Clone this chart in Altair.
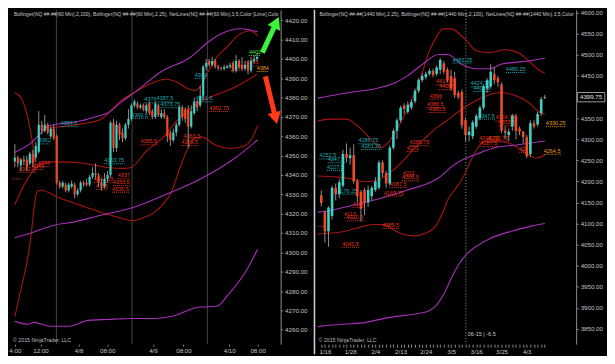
import math
import altair as alt
import pandas as pd

# ================= LEFT PANEL : NQ 60 Min =================
L_open = [4347, 4349, 4345, 4348, 4348, 4346, 4351, 4349, 4352, 4366,
          4363, 4366, 4360, 4364, 4360, 4336, 4334, 4335, 4332, 4334,
          4335, 4330, 4332, 4336, 4336, 4335, 4339, 4341, 4340, 4336,
          4334, 4338, 4340, 4367, 4354, 4366, 4362, 4359, 4366, 4369,
          4376, 4377, 4375, 4376, 4373, 4377, 4373, 4370, 4376, 4370,
          4372, 4370, 4362, 4358, 4362, 4366, 4375, 4374, 4374, 4365,
          4372, 4378, 4376, 4381, 4396, 4399, 4397, 4399, 4396, 4395.5,
          4395, 4395.5, 4396, 4398, 4394, 4399, 4397, 4395, 4398, 4394,
          4399, 4400]
L_high = [4356, 4350, 4349, 4350, 4350, 4352, 4353, 4357, 4373, 4368,
          4371, 4367, 4365, 4366, 4361, 4337, 4337, 4336, 4336, 4337,
          4336, 4333, 4337, 4337, 4338, 4340, 4344, 4346, 4341, 4338,
          4341, 4342, 4368, 4369, 4368, 4367, 4364, 4367, 4374, 4377,
          4379, 4378, 4377, 4377, 4377, 4378, 4374, 4378, 4377, 4374,
          4374, 4371, 4363, 4364, 4367, 4376, 4376, 4375, 4376, 4376,
          4380, 4379, 4386, 4397, 4400, 4400, 4401, 4400, 4397, 4396,
          4397, 4397, 4398, 4399, 4402, 4400, 4401, 4399, 4399, 4401,
          4402, 4403]
L_low = [4344, 4344, 4342, 4345, 4342, 4345, 4344, 4347, 4351, 4361,
         4362, 4361, 4359, 4358, 4335, 4333, 4333, 4331, 4331, 4333,
         4328, 4329, 4331, 4334, 4334, 4334, 4338, 4338, 4334, 4332,
         4333, 4336, 4339, 4352, 4352, 4358, 4357, 4358, 4364, 4368,
         4375, 4374, 4374, 4373, 4372, 4371, 4369, 4369, 4370, 4369,
         4369, 4357, 4355, 4357, 4360, 4365, 4368, 4367, 4354, 4364,
         4371, 4373, 4375, 4379, 4394, 4396, 4396, 4395, 4394, 4394,
         4394, 4395, 4395, 4393, 4393, 4395, 4394, 4394, 4392, 4393,
         4398, 4399]
L_close = [4349, 4346, 4348, 4347, 4344, 4351, 4346, 4355, 4366, 4363,
           4366, 4362, 4364, 4359, 4336, 4334, 4336, 4332, 4335, 4335.5,
           4330, 4332, 4336, 4335, 4335, 4339, 4341, 4340, 4336, 4334,
           4338, 4340, 4367, 4354, 4366, 4361, 4359, 4366, 4369, 4376,
           4378, 4375, 4376, 4374, 4376, 4372, 4370, 4377, 4371, 4372,
           4370, 4360, 4358, 4362, 4366, 4375, 4370, 4369, 4365, 4373,
           4378, 4375, 4381, 4396, 4398, 4397, 4399, 4396, 4395.25, 4395,
           4395.75, 4396.25, 4396.75, 4394, 4399, 4396, 4395, 4397, 4394, 4399,
           4400, 4401]

# Bollinger(2,100) - purple
L_bb100_up_i = [0, 5.4, 8.6, 10.8, 15, 20.4, 27.7, 30.9, 35.7, 40.4, 49, 58.6, 65, 69.1, 75.5, 81.2]
L_bb100_up_p = [4351.7, 4356.6, 4361.5, 4365, 4366.5, 4367.4, 4370.4, 4371.9, 4377.8, 4383.1,
                4393.5, 4400.8, 4409.2, 4413.1, 4415.6, 4414.1]
L_bb100_mid_i = [0, 5.4, 12.7, 20.4, 27.7, 39.5, 50, 62.7, 73.2, 81.2]
L_bb100_mid_p = [4307.5, 4310, 4313.9, 4315.9, 4318.8, 4323.2, 4329.6, 4338.5, 4348.3, 4358.1]
L_bb100_lo_i = [0, 4.5, 6.4, 11.8, 18.2, 24.5, 30.9, 39.5, 46.8, 52.2, 61.8, 67.5, 71.3, 77.7, 81.2]
L_bb100_lo_p = [4264.3, 4262.8, 4263.8, 4261.8, 4261.8, 4264.8, 4265.3, 4265.8, 4265.8, 4266.8,
                4271.7, 4272.1, 4278, 4291.3, 4301.6]
# Bollinger(2.25,25) - dark red
L_bb25_a_i = [0, 2.2, 3.8, 5.1, 6.1, 6.7, 7.0]
L_bb25_a_p = [4382.7, 4379.7, 4372.8, 4364, 4354.6, 4346.8, 4343.4]
L_bb25_up_i = [11.8, 20.4, 28.3, 30.9, 35.7, 40.4, 45.2, 50.6, 54.8, 58, 60.2, 62.1, 64.3, 67.5,
               70.7, 75.5, 78.7, 81.2]
L_bb25_up_p = [4364.5, 4366, 4368.4, 4371.4, 4378.7, 4383.1, 4387.1, 4389.5, 4387.6, 4384.6,
               4383.6, 4386.1, 4392.5, 4400.8, 4405.8, 4413.1, 4414.6, 4412.1]
L_bb25_mid_i = [0, 2.2, 4.8, 7.0, 9.6, 15, 21.3, 27.7, 30.9, 36.3, 38.9, 43.6, 50, 54.1, 60.5,
                66.9, 73.2, 80.9]
L_bb25_mid_p = [4324.7, 4332.1, 4339.4, 4343.4, 4346.8, 4346.8, 4346.3, 4344.8, 4343.9, 4343.4,
                4343.9, 4351.7, 4360.1, 4367.9, 4376.3, 4381.2, 4385.1, 4392]
L_bb25_lo_i = [0, 1.6, 3.2, 4.5, 5.4, 6.4, 7.3, 8.6, 15, 21.3, 27.7, 34.1, 39.5, 43.6, 46.8, 50,
               52.2, 55.4, 58, 60.2, 62.7, 66.9, 72.3, 77.1, 79.3, 81.2]
L_bb25_lo_p = [4266.7, 4278, 4288.8, 4298.7, 4308.5, 4322.2, 4331.1, 4332.1, 4328.1, 4324.7,
               4321.3, 4318.3, 4316.4, 4318.3, 4320.8, 4325.7, 4330.6, 4344.4, 4354.2, 4359.1,
               4359.6, 4355.6, 4353.7, 4355.2, 4359.1, 4365.5]

# NetLines labels
L_lab_txt = ["4354.5", "4362", "4344", "4342.5", "4343", "", "4353.75", "4341.25", "4335", "4337",
             "4333.5", "4330.5", "4369.5", "4376", "4387.5", "4373.75", "4389", "4381.5", "4362.75",
             "4365.5", "4363.5", "4359.5", "4396", "4395", "4384", "4402"]
L_lab_i = [15.3, 8, 7.6, 1.3, 5.7, -1, 29.9, 26.4, 27.1, 34.4, 32.8, 32.5, 38.9, 43.3, 47.4, 48.7,
           60.2, 60.5, 65, 42, 56.4, 55.7, 72.3, 77.4, 80.9, 78.3]
L_lab_p = [4365, 4356.1, 4344.4, 4341.4, 4342.9, 4338, 4345.8, 4336, 4332.6, 4338, 4334.5, 4331.1,
           4369.4, 4377.3, 4377.8, 4374.8, 4390, 4377.8, 4372.8, 4355.6, 4358.6, 4355.2, 4394,
           4396.4, 4393.5, 4401.8]
L_lab_kind = ["up", "up", "dn", "dn", "dn", "dn", "up", "dn", "dn", "dn", "dn", "dn", "up", "up",
              "up", "up", "up", "up", "dn", "dn", "dn", "dn", "dn", "dn", "cur", "hi"]

L_xtick_pos = [0, 8.6, 21.3, 30.9, 46.2, 56.4, 71.7, 81.2]
L_xtick_lab = ["4:00", "12:00", "4/8", "08:00", "4/9", "08:00", "4/10", "08:00"]
L_sessions = [13.9, 39.2, 64.4]
L_yticks = list(range(4260, 4421, 10))
G_ARROW_I = [82.8, 86.9]
G_ARROW_P = [4403.3, 4417.0]
R_ARROW_I = [83.8, 86.9]
R_ARROW_P = [4391.0, 4371.4]

# ================= RIGHT PANEL : NQ 1440 Min =================
R_open = [4167, 4127, 4082, 4118, 4185, 4170, 4190, 4265, 4255, 4262,
          4200, 4175, 4180, 4150, 4165, 4180, 4185, 4245, 4220, 4195,
          4280, 4320, 4345, 4380, 4365, 4375, 4390, 4415, 4440, 4447,
          4455, 4462, 4455, 4465, 4480, 4465, 4450, 4445, 4410, 4412,
          4345, 4310, 4307, 4330, 4350, 4375, 4420, 4425, 4455, 4445,
          4430, 4320, 4310, 4330, 4355, 4325, 4318, 4305, 4265, 4338,
          4335, 4362, 4398]
R_high = [4179, 4131, 4141, 4190, 4195, 4205, 4275, 4290, 4280, 4288,
          4205, 4180, 4185, 4190, 4190, 4210, 4250, 4250, 4225, 4285,
          4325, 4350, 4380, 4385, 4390, 4395, 4420, 4445, 4456, 4460,
          4468, 4467, 4475, 4492, 4485, 4470, 4465, 4460, 4415, 4418,
          4350, 4330, 4345, 4360, 4380, 4430, 4445, 4478, 4470, 4450,
          4435, 4330, 4325, 4360, 4360, 4330, 4320, 4310, 4345, 4345,
          4365, 4400, 4405]
R_low = [4140, 4055, 4045, 4110, 4155, 4160, 4185, 4245, 4240, 4195,
         4150, 4105, 4120, 4140, 4155, 4175, 4180, 4210, 4185, 4190,
         4275, 4300, 4340, 4360, 4360, 4370, 4385, 4410, 4435, 4442,
         4450, 4447, 4450, 4455, 4455, 4435, 4415, 4398, 4395, 4325,
         4295, 4295, 4300, 4325, 4345, 4370, 4410, 4420, 4430, 4425,
         4315, 4300, 4295, 4320, 4300, 4310, 4290, 4255, 4258, 4325,
         4330, 4355, 4395]
R_close = [4149, 4082, 4138, 4185, 4170, 4198, 4265, 4255, 4262, 4200,
           4165, 4135, 4150, 4180, 4185, 4200, 4245, 4220, 4195, 4280,
           4320, 4345, 4375, 4372, 4382, 4388, 4415, 4440, 4450, 4455,
           4462, 4452, 4470, 4488, 4460, 4440, 4420, 4405, 4400, 4333,
           4310, 4318, 4340, 4355, 4375, 4425, 4440, 4460, 4440, 4435,
           4320, 4315, 4318, 4355, 4320, 4318, 4305, 4260, 4338, 4330,
           4360, 4395, 4399.75]

R_bb100_up_i = [-1.06, 0.5, 6.1, 9.8, 15, 20.3, 23.7, 28.2, 32.5, 35.1, 38.8, 43, 46.7, 50.1, 54.6, 58.8, 62]
R_bb100_up_p = [4397.3, 4399.6, 4408.6, 4413.1, 4419.8, 4433.4, 4449.1, 4478.4, 4500.9, 4500.9,
                4478.4, 4467.1, 4467.1, 4478.4, 4482.9, 4487.4, 4491.9]
R_bb100_mid_i = [-1.06, 1.3, 6.1, 15, 23.7, 32.5, 36.9, 39.6, 43, 48.3, 54.6, 62]
R_bb100_mid_p = [4127.1, 4129.3, 4138.3, 4156.4, 4178.9, 4208.2, 4239.7, 4253.2, 4264.5, 4280.2, 4287, 4296]
R_bb100_lo_i = [-1.06, 0, 6.1, 12.4, 15, 20.3, 26.4, 29.8, 31.7, 34.3, 36.4, 38.3, 40.4, 43, 46.7, 52.8, 58, 62]
R_bb100_lo_p = [3854.6, 3856.8, 3861.3, 3865.8, 3870.4, 3879.4, 3886.1, 3892.9, 3904.1, 3937.9,
                3976.2, 4005.5, 4028, 4046, 4064, 4082, 4093.3, 4100]
R_bb25_up_i = [-1.06, 2.6, 6.9, 10.3, 14, 16.4, 18.5, 20.8, 23.2, 25.3, 27.7, 29.8, 31.7, 33.8,
               36.1, 38.8, 40.4, 43, 46.7, 50.9, 54.6, 57.3, 59.9, 62]
R_bb25_up_p = [4343.3, 4347.8, 4347.8, 4329.8, 4298.2, 4280.2, 4291.5, 4320.8, 4359, 4397.3,
               4449.1, 4505.4, 4539.2, 4561.7, 4561.7, 4546, 4532.4, 4509.9, 4505.4, 4512.2,
               4505.4, 4487.4, 4467.1, 4455.9]
R_bb25_mid_i = [-1.06, 4.2, 8.7, 12.1, 14.8, 18.2, 21.9, 25.3, 28.8, 31.7, 34.3, 39.6, 44.9, 49.6,
                53.6, 57.3, 60.7, 62]
R_bb25_mid_p = [4212.7, 4210.4, 4205.9, 4199.1, 4201.4, 4214.9, 4242, 4273.5, 4302.7, 4325.3,
                4341, 4374.8, 4399.6, 4410.8, 4404.1, 4388.3, 4363.5, 4359]
R_bb25_lo_i = [-1.06, 2.6, 6.6, 10.6, 14.5, 17.4, 19.8, 22.4, 25.9, 29, 31.7, 33.5, 35.1, 36.9,
               38.8, 40.4, 42.2, 44.1, 46.7, 50.1, 53.6, 57.3, 59.4, 62]
R_bb25_lo_p = [4075.3, 4077.5, 4082, 4091, 4097.8, 4097.8, 4086.6, 4075.3, 4070.8, 4077.5,
               4093.3, 4122.6, 4156.4, 4178.9, 4201.4, 4228.4, 4262.2, 4287, 4298.2, 4296,
               4284.7, 4264.5, 4255.4, 4262.2]

R_lab_txt = ["4483.25", "4480.25", "4424.75", "4417.5", "4396", "4386.5", "4380.5", "4414.75",
             "4408.5", "4347.5", "4324.75", "4323.5", "4330.25", "4298.75", "4292.75", "4287.5",
             "4271", "4264.5", "4288.75", "4283.25", "4252.5", "4247.5", "4227.5", "4176.25",
             "4285.75", "4271", "4211", "4206.5", "4187.5", "4165.75", "4149", "4113", "4110.5",
             "4085.5", "4041.5", ""]
R_lab_i = [36.4, 51.2, 41.4, 42.2, 30.1, 29.3, 29.8, 31.9, 32.7, 43.5, 48.3, 49.1, 62.3, 43.8,
           46.4, 44.1, 54.9, 61.7, 10.3, 11.1, -0.5, 1.8, 1.6, 4.5, 24.5, 23.7, 22.7, 22.4, 19,
           17.4, 8.7, 6.3, 7.1, 16.9, 5.8, -1.06]
R_lab_p = [4480.6, 4458.2, 4424.3, 4413.1, 4395.1, 4374.8, 4363.5, 4428.8, 4417.6, 4347.8,
           4343.3, 4332, 4329.8, 4293.7, 4293.7, 4282.5, 4268.9, 4264.5, 4289.2, 4275.7,
           4253.2, 4244.2, 4226.2, 4169.9, 4284.7, 4271.2, 4212.7, 4201.4, 4185.6, 4165.4,
           4138.3, 4113.6, 4106.8, 4088.8, 4043.8, 4093.3]
R_lab_kind = ["up", "up", "up", "up", "dn", "dn", "dn", "dn", "dn", "up", "dn", "dn", "cur", "dn",
              "dn", "dn", "dn", "cur", "up", "up", "up", "up", "up", "up", "dn", "dn", "dn", "dn",
              "dn", "dn", "dn", "dn", "dn", "dn", "dn", "dn"]

R_xtick_pos = [1, 8, 15, 22, 29, 36, 43, 50, 57]
R_xtick_lab = ["1/16", "1/28", "2/4", "2/13", "2/24", "3/5", "3/16", "3/25", "4/3"]
R_cursor = [40.1]
R_last = [4399.75]
R_yticks = [v for v in range(3850, 4601, 50) if v != 4400]

L_TITLE = ("Bollinger(NQ ##-##(60 Min),2,100), Bollinger(NQ ##-##(60 Min),2,25), "
           "NetLines(NQ ##-##(60 Min),3,5,Color [Lime],Color [Red],Color [Orange])")
R_TITLE = ("Bollinger(NQ ##-##(1440 Min),2,25), Bollinger(NQ ##-##(1440 Min),2,100), "
           "NetLines(NQ ##-##(1440 Min),3,5,Color [Lime],Color [Red],Color [Orange])")
COPY = "\u00a9 2015 NinjaTrader, LLC"
CURSOR_TXT = "06-15 | -6.5"

# ================= styling =================
FONT = "Liberation Sans"
UP_BODY = "#3fd0c4"
DN_BODY = "#ee4a2c"
WICK = "#8d8d8d"
PURPLE = "#a62fb8"
DARKRED = "#a8150f"
KIND_COL = {"up": "#1fa6ad", "dn": "#e3321b", "cur": "#e99a1b", "hi": "#3ae23a"}
AX_LINE = "#8c8c8c"
AX_TXT = "#c4c4c4"

W1, W2, H = 270, 260, 336
L_DOM = [-0.96, 88.9]
L_YDOM = [4252.5, 4425.4]
R_DOM = [-1.06, 70.7]
R_YDOM = [3814.0, 4606.8]


def lines_df(specs):
    rows = []
    for name, col, xs, ps in specs:
        for x, p in zip(xs, ps):
            rows.append({"name": name, "col": col, "i": x, "p": p})
    return pd.DataFrame(rows)


def labels_df(txt, xs, ps, kinds, kchar):
    rows = []
    for t, x, p, k in zip(txt, xs, ps, kinds):
        rows.append({"txt": t, "i": x, "i2": x + max(len(t), 3) * kchar, "p": p,
                     "col": KIND_COL[k]})
    return pd.DataFrame(rows)


def yaxis(vals):
    return alt.Axis(orient="right", values=vals, format=".2f", grid=False,
                    domainColor=AX_LINE, tickColor=AX_LINE, tickSize=2, labelPadding=2,
                    labelColor=AX_TXT, labelFont=FONT, labelFontSize=6.2)


def xaxis(ticks, pos, lab, tsize):
    expr = ("indexof(%s, datum.value) >= 0 ? %s[indexof(%s, datum.value)] : ''"
            % (str(pos), str(lab), str(pos)))
    return alt.Axis(values=ticks, labelExpr=expr, grid=False, domain=False,
                    tickColor=AX_LINE, tickSize=tsize, labelPadding=1, labelOverlap=False,
                    labelColor=AX_TXT, labelFont=FONT, labelFontSize=6.2)


def panel(W, xdom, ydom, o, h, l, c, ldf, labdf, xax, yax, bw, extras_before, extras_after, title):
    xs = alt.Scale(domain=xdom, nice=False, zero=False)
    ys = alt.Scale(domain=ydom, nice=False, zero=False)

    def X(f):
        return alt.X(f + ":Q", scale=xs, axis=xax, title=None)

    def Y(f):
        return alt.Y(f + ":Q", scale=ys, axis=yax, title=None)

    cdf = pd.DataFrame({"i": list(range(len(o))), "open": o, "high": h, "low": l, "close": c})
    layers = []
    for mk in extras_before:
        layers.append(mk(X, Y))
    layers.append(alt.Chart(ldf).mark_line(clip=True, strokeWidth=1.1, interpolate="monotone").encode(
        x=X("i"), y=Y("p"), color=alt.Color("col:N", scale=None), detail="name:N"))
    layers.append(alt.Chart(labdf).mark_rule(clip=True, strokeDash=[1, 1], strokeWidth=1).encode(
        x=X("i"), x2="i2:Q", y=Y("p"), color=alt.Color("col:N", scale=None)))
    layers.append(alt.Chart(labdf).mark_text(clip=True, align="left", baseline="bottom", dy=-0.5,
                                              font=FONT, fontSize=5.5).encode(
        x=X("i"), y=Y("p"), text="txt:N", color=alt.Color("col:N", scale=None)))
    layers.append(alt.Chart(cdf).mark_rule(color=WICK, strokeWidth=1).encode(
        x=X("i"), y=Y("low"), y2="high:Q"))
    layers.append(alt.Chart(cdf).mark_rule(strokeWidth=bw, strokeCap="butt").encode(
        x=X("i"), y=Y("open"), y2="close:Q",
        color=alt.condition("datum.close >= datum.open", alt.value(UP_BODY), alt.value(DN_BODY))))
    for mk in extras_after:
        layers.append(mk(X, Y))
    layers.append(alt.Chart(pd.DataFrame({"t": [title]})).mark_text(
        align="left", baseline="middle", font=FONT, fontSize=5.0, color="#c9c9c9",
        limit=W - 2, ellipsis=" ").encode(x=alt.value(2), y=alt.value(4), text="t:N"))
    layers.append(alt.Chart(pd.DataFrame({"t": [COPY]})).mark_text(
        align="left", baseline="bottom", font=FONT, fontSize=5.3, color="#bdbdbd").encode(
        x=alt.value(1), y=alt.value(H - 1), text="t:N"))
    return alt.layer(*layers).properties(width=W, height=H)


# ---------- left extras ----------
pxb = W1 / (L_DOM[1] - L_DOM[0])
pxp = H / (L_YDOM[1] - L_YDOM[0])


def arrow_head(xs, ps, ext=4.0):
    dx = (xs[1] - xs[0]) * pxb
    dy = (ps[1] - ps[0]) * pxp
    ln = math.hypot(dx, dy)
    ang = math.degrees(math.atan2(dx, dy)) % 360
    return xs[1] + dx / ln * ext / pxb, ps[1] + dy / ln * ext / pxp, ang


gi, gp, ga = arrow_head(G_ARROW_I, G_ARROW_P)
ri, rp, ra = arrow_head(R_ARROW_I, R_ARROW_P)
arrow_df = pd.DataFrame({"arrow": ["g", "g", "r", "r"],
                         "i": G_ARROW_I + R_ARROW_I, "p": G_ARROW_P + R_ARROW_P,
                         "col": ["#3df03a"] * 2 + ["#ff3a16"] * 2})
head_df = pd.DataFrame({"i": [gi, ri], "p": [gp, rp], "ang": [ga, ra],
                        "col": ["#3df03a", "#ff3a16"]})


def l_sessions(X, Y):
    return alt.Chart(pd.DataFrame({"i": L_sessions})).mark_rule(color="#444444", strokeWidth=1).encode(
        x=X("i"))


def l_arrows(X, Y):
    return alt.Chart(arrow_df).mark_line(strokeWidth=5, strokeCap="butt").encode(
        x=X("i"), y=Y("p"), detail="arrow:N", color=alt.Color("col:N", scale=None))


def l_heads(X, Y):
    return alt.Chart(head_df).mark_point(shape="triangle-up", filled=True, size=190, opacity=1).encode(
        x=X("i"), y=Y("p"), angle=alt.Angle("ang:Q", scale=None), color=alt.Color("col:N", scale=None))


L_lines = lines_df([
    ("r_a", DARKRED, L_bb25_a_i, L_bb25_a_p),
    ("r_up", DARKRED, L_bb25_up_i, L_bb25_up_p),
    ("r_mid", DARKRED, L_bb25_mid_i, L_bb25_mid_p),
    ("r_lo", DARKRED, L_bb25_lo_i, L_bb25_lo_p),
    ("p_up", PURPLE, L_bb100_up_i, L_bb100_up_p),
    ("p_mid", PURPLE, L_bb100_mid_i, L_bb100_mid_p),
    ("p_lo", PURPLE, L_bb100_lo_i, L_bb100_lo_p),
])
L_labs = labels_df(L_lab_txt, L_lab_i, L_lab_p, L_lab_kind, 0.97)

left = panel(W1, L_DOM, L_YDOM, L_open, L_high, L_low, L_close, L_lines, L_labs,
             xaxis(L_xtick_pos, L_xtick_pos, L_xtick_lab, 2), yaxis(L_yticks), 2.2,
             [l_sessions], [l_arrows, l_heads], L_TITLE)


# ---------- right extras ----------
def r_cursor(X, Y):
    return alt.Chart(pd.DataFrame({"i": R_cursor})).mark_rule(
        color="#9a9a9a", strokeWidth=1, strokeDash=[1, 2]).encode(x=X("i"))


def r_divider(X, Y):
    return alt.Chart(pd.DataFrame({"a": [0]})).mark_rule(color="#d4d4d4", strokeWidth=1.5).encode(
        x=alt.value(-3), y=alt.value(0), y2=alt.value(H + 10))


def r_cursor_txt(X, Y):
    return alt.Chart(pd.DataFrame({"i": R_cursor, "t": [CURSOR_TXT]})).mark_text(
        align="left", baseline="middle", dx=2, font=FONT, fontSize=5.5, color="#c8c8c8").encode(
        x=X("i"), y=alt.value(H - 10), text="t:N")


def r_last_box(X, Y):
    return alt.Chart(pd.DataFrame({"p": R_last})).mark_point(
        shape="M-1,-0.34L1,-0.34L1,0.34L-1,0.34Z", size=760, filled=True, fill="#000000",
        stroke="#9a9a9a", strokeWidth=1, opacity=1).encode(x=alt.value(W2 + 15), y=Y("p"))


def r_last_txt(X, Y):
    return alt.Chart(pd.DataFrame({"p": R_last, "t": ["4399.75"]})).mark_text(
        align="center", baseline="middle", font=FONT, fontSize=6.2, color="#e0e0e0").encode(
        x=alt.value(W2 + 15), y=Y("p"), text="t:N")


R_lines = lines_df([
    ("r_up", DARKRED, R_bb25_up_i, R_bb25_up_p),
    ("r_mid", DARKRED, R_bb25_mid_i, R_bb25_mid_p),
    ("r_lo", DARKRED, R_bb25_lo_i, R_bb25_lo_p),
    ("p_up", PURPLE, R_bb100_up_i, R_bb100_up_p),
    ("p_mid", PURPLE, R_bb100_mid_i, R_bb100_mid_p),
    ("p_lo", PURPLE, R_bb100_lo_i, R_bb100_lo_p),
])
R_labs = labels_df(R_lab_txt, R_lab_i, R_lab_p, R_lab_kind, 0.8)

right = panel(W2, R_DOM, R_YDOM, R_open, R_high, R_low, R_close, R_lines, R_labs,
              xaxis(list(range(0, 63)), R_xtick_pos, R_xtick_lab, 3), yaxis(R_yticks), 2.6,
              [r_divider, r_cursor], [r_cursor_txt, r_last_box, r_last_txt], R_TITLE)

chart = alt.hconcat(left, right, spacing=6).configure(
    background="#000000", padding=0).configure_view(strokeWidth=0)

chart.save("out.html", embed_options={"renderer": "svg", "actions": False})
